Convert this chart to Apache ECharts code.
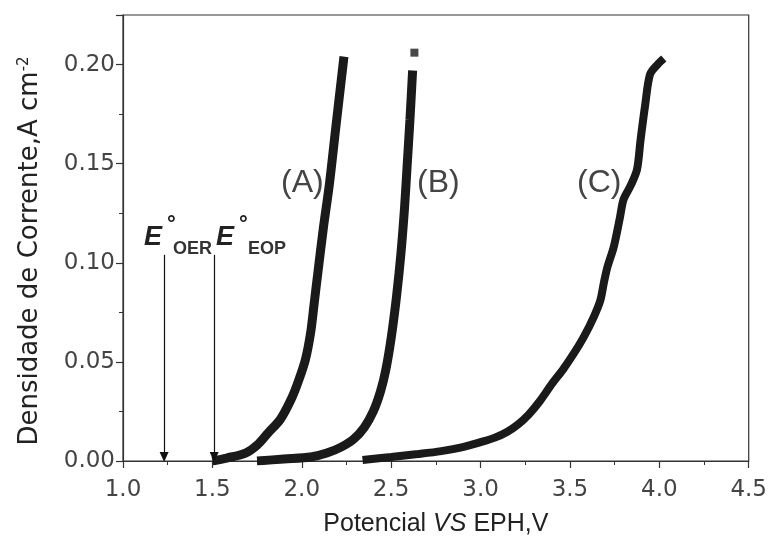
<!DOCTYPE html>
<html>
<head>
<meta charset="utf-8">
<script src="https://cdn.jsdelivr.net/npm/echarts@6/dist/echarts.min.js"></script>
<style>
  html, body { margin: 0; padding: 0; background: #fff; }
  #chart { width: 770px; height: 545px; }
</style>
</head>
<body>
<div id="chart"></div>
<script>
// curve (A)  [potencial V, densidade A cm-2]
const curveA = [
  [1.50, 0.000], [1.58, 0.0015], [1.685, 0.004], [1.75, 0.008], [1.81, 0.014],
  [1.88, 0.021], [1.94, 0.031], [1.98, 0.040], [2.02, 0.051], [2.05, 0.065],
  [2.07, 0.080], [2.09, 0.095], [2.12, 0.117], [2.155, 0.140], [2.19, 0.168],
  [2.236, 0.204]
];
// curve (B)
const curveB = [
  [1.75, 0.000], [1.90, 0.001], [2.05, 0.002], [2.14, 0.004], [2.22, 0.007],
  [2.29, 0.011], [2.35, 0.017], [2.40, 0.025], [2.44, 0.035], [2.47, 0.046],
  [2.50, 0.062], [2.53, 0.083], [2.555, 0.105], [2.575, 0.128], [2.59, 0.150],
  [2.605, 0.172], [2.62, 0.197]
];
const curveBEnd = [[2.63, 0.206]];
// curve (C)
const curveC = [
  [2.34, 0.0005], [2.50, 0.002], [2.65, 0.0035], [2.78, 0.005], [2.90, 0.007],
  [3.00, 0.0095], [3.08, 0.0118], [3.15, 0.0148], [3.21, 0.0185], [3.27, 0.0235],
  [3.33, 0.030], [3.40, 0.039], [3.46, 0.046], [3.52, 0.054], [3.58, 0.063],
  [3.635, 0.073], [3.67, 0.081], [3.69, 0.090], [3.71, 0.098], [3.745, 0.108],
  [3.78, 0.123], [3.80, 0.132], [3.84, 0.139], [3.875, 0.147], [3.895, 0.162],
  [3.92, 0.179], [3.948, 0.195], [3.99, 0.200], [4.025, 0.203]
];
// E° OER, E° EOP
const refPotentials = [1.23, 1.51];
const arrowTop = 0.104;
const arrowTip = 0.002;

const curveLabels = ['(A)', '(B)', '(C)'];
const xTicks = { min: 1.0, max: 4.5, step: 0.5 };
const yTicks = { min: 0, max: 0.225, step: 0.05 };

const chart = echarts.init(document.getElementById('chart'));
const ink = '#1a1a1a';
const font = 'Liberation Sans';
const tickFont = 'DejaVu Sans';

const lineSeries = (data, w) => ({
  type: 'line',
  data: data,
  smooth: 0.3,
  showSymbol: false,
  lineStyle: { color: ink, width: w },
  animation: false
});

const option = {
  animation: false,
  grid: {
    left: 123, right: 13, top: 15, bottom: 84,
    show: true, borderColor: '#333', borderWidth: 1.2
  },
  xAxis: {
    type: 'value',
    min: xTicks.min, max: xTicks.max, interval: xTicks.step,
    offset: 3,
    name: 'Potencial {i|VS} EPH,V',
    nameLocation: 'middle',
    nameGap: 48,
    nameTextStyle: {
      fontFamily: font, fontSize: 25, color: '#222',
      rich: { i: { fontFamily: font, fontSize: 25, fontStyle: 'italic', color: '#222' } }
    },
    axisLine: { lineStyle: { color: '#333', width: 1.2 } },
    axisTick: { length: 7, lineStyle: { color: '#333', width: 1.2 } },
    minorTick: { show: true, splitNumber: 2, length: 4, lineStyle: { color: '#333' } },
    splitLine: { show: false },
    axisLabel: {
      fontFamily: tickFont, fontSize: 23, color: '#444', margin: 15,
      formatter: v => v.toFixed(1)
    }
  },
  yAxis: {
    type: 'value',
    min: yTicks.min, max: yTicks.max, interval: yTicks.step,
    name: '{a|Densidade de Corrente,A cm}{s|-2}',
    nameLocation: 'middle',
    nameGap: 80,
    nameTextStyle: {
      padding: [0, 26, 0, 0],
      rich: {
        a: { fontFamily: tickFont, fontSize: 26, color: '#222' },
        s: { fontFamily: tickFont, fontSize: 15, color: '#222', verticalAlign: 'top', padding: [0, 0, 11, 0] }
      }
    },
    axisLine: { show: true, lineStyle: { color: '#333', width: 1.2 } },
    axisTick: { length: 7, lineStyle: { color: '#333', width: 1.2 } },
    minorTick: { show: true, splitNumber: 2, length: 4, lineStyle: { color: '#333' } },
    splitLine: { show: false },
    axisLabel: {
      fontFamily: tickFont, fontSize: 23, color: '#444', margin: 8,
      showMaxLabel: false,
      formatter: v => v.toFixed(2)
    }
  },
  series: [
    Object.assign(lineSeries(curveA, 9), {
      markLine: {
        silent: true,
        symbol: ['none', 'triangle'],
        symbolSize: [9, 10],
        label: { show: false },
        lineStyle: { color: '#111', width: 1.2, type: 'solid' },
        data: refPotentials.map(e => [{ coord: [e, arrowTop] }, { coord: [e, arrowTip] }])
      }
    }),
    lineSeries(curveB, 9),
    lineSeries(curveC, 8),
    {
      type: 'scatter',
      data: curveBEnd,
      symbol: 'rect',
      symbolSize: 8,
      itemStyle: { color: ink }
    }
  ],
  graphic: [
    { type: 'text', left: 144, top: 224, style: { text: 'E', font: 'italic bold 27px ' + font, fill: '#222' } },
    { type: 'text', left: 167, top: 214, style: { text: '°', font: 'bold 22px ' + font, fill: '#222' } },
    { type: 'text', left: 173, top: 240, style: { text: 'OER', font: 'bold 18px ' + font, fill: '#333' } },
    { type: 'text', left: 216, top: 224, style: { text: 'E', font: 'italic bold 27px ' + font, fill: '#222' } },
    { type: 'text', left: 239, top: 214, style: { text: '°', font: 'bold 22px ' + font, fill: '#222' } },
    { type: 'text', left: 248, top: 240, style: { text: 'EOP', font: 'bold 18px ' + font, fill: '#333' } },
    { type: 'text', left: 281, top: 167, style: { text: curveLabels[0], font: '32px ' + font, fill: '#444' } },
    { type: 'text', left: 417, top: 167, style: { text: curveLabels[1], font: '32px ' + font, fill: '#444' } },
    { type: 'text', left: 577, top: 167, style: { text: curveLabels[2], font: '32px ' + font, fill: '#444' } }
  ]
};

chart.setOption(option);
</script>
</body>
</html>
